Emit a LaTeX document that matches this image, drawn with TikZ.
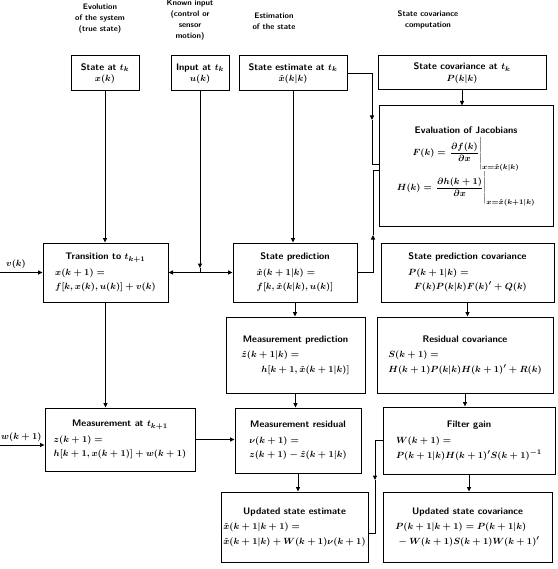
\documentclass[tikz,border=0pt]{standalone}
\usepackage{amsmath}
\usetikzlibrary{arrows.meta}
\newcommand{\kfTitle}[1]{\multicolumn{1}{@{}c@{}}{#1}}
\begin{document}
\begin{tikzpicture}[x=1pt,y=-1pt,
  box/.style={draw, line width=1pt, inner sep=1pt, font=\sffamily\bfseries\boldmath\fontsize{9.5}{11.5}\selectfont, align=center},
  ln/.style={line width=1pt},
  arr/.style={ln, -{Triangle[length=4.5pt,width=4pt]}},
  darr/.style={ln, {Triangle[length=4.5pt,width=4pt]}-{Triangle[length=4.5pt,width=4pt]}},
  hdr/.style={font=\sffamily\bfseries\fontsize{8}{11}\selectfont, align=center, inner sep=0pt},
  lbl/.style={font=\bfseries\boldmath\fontsize{9.5}{11}\selectfont, inner sep=1pt}]
\useasboundingbox[fill=white] (0,0) rectangle (557,569);

% headers
\node[hdr] (h1) at (100,19) {Evolution\\of the system\\(true state)};
\node[hdr] (h2) at (190,20.5) {Known input\\(control or\\sensor\\motion)};
\node[hdr] (h3) at (274,21) {Estimation\\of the state};
\node[hdr] (h4) at (428,20) {State covariance\\computation};

% boxes
\node[box, minimum width=68pt, minimum height=35pt] (sk) at (105,73.5)
  {\begin{tabular}{@{}c@{}}State at $t_k$\\ $x(k)$\end{tabular}};
\node[box, minimum width=58pt, minimum height=35pt] (uk) at (200,73.5)
  {\begin{tabular}{@{}c@{}}Input at $t_k$\\ $u(k)$\end{tabular}};
\node[box, minimum width=108pt, minimum height=35pt] (xe) at (293,73.5)
  {\begin{tabular}{@{}c@{}}State estimate at $t_k$\\ $\hat{x}(k|k)$\end{tabular}};
\node[box, minimum width=168pt, minimum height=34pt] (Pk) at (462,73)
  {\begin{tabular}{@{}c@{}}State covariance at $t_k$\\ $P(k|k)$\end{tabular}};
\node[box, minimum width=174pt, minimum height=120pt] (jac) at (466,166)
  {\begin{tabular}{@{}c@{}}Evaluation of Jacobians\\[0pt]
   $F(k) = \left.\dfrac{\partial f(k)}{\partial x}\rule[-14pt]{0pt}{24pt}\right|_{x=\hat{x}(k|k)}$\\[9pt]
   $H(k) = \left.\dfrac{\partial h(k+1)}{\partial x}\rule[-14pt]{0pt}{24pt}\right|_{x=\hat{x}(k+1|k)}$\end{tabular}};
\node[box, minimum width=125pt, minimum height=59pt] (tr) at (105.5,272.5)
  {\begin{tabular}{@{}l@{}}\kfTitle{Transition to $t_{k+1}$}\\[4pt] $x(k+1) =$\\[3pt] $f[k, x(k), u(k)] + v(k)$\end{tabular}};
\node[box, minimum width=124pt, minimum height=59pt] (sp) at (295,272.5)
  {\begin{tabular}{@{}l@{}}\kfTitle{State prediction}\\[4pt] $\hat{x}(k+1|k) =$\\[3pt] $f[k, \hat{x}(k|k), u(k)]$\end{tabular}};
\node[box, minimum width=173pt, minimum height=59pt] (spc) at (467.5,272.5)
  {\begin{tabular}{@{}l@{}}\kfTitle{State prediction covariance}\\[4pt] $P(k+1|k) =$\\[3pt] \hspace{6pt}$F(k)P(k|k)F(k)' + Q(k)$\end{tabular}};
\node[box, minimum width=139pt, minimum height=76pt] (mp) at (295.5,355)
  {\begin{tabular}{@{}l@{}}\kfTitle{Measurement prediction}\\[4pt] $\hat{z}(k+1|k) =$\\[3pt] \hspace{20pt}$h[k+1, \hat{x}(k+1|k)]$\end{tabular}};
\node[box, minimum width=176pt, minimum height=76pt] (rc) at (465,355)
  {\begin{tabular}{@{}l@{}}\kfTitle{Residual covariance}\\[4pt] $S(k+1) =$\\[3pt] $H(k+1)P(k|k)H(k+1)' + R(k)$\end{tabular}};
\node[box, minimum width=150pt, minimum height=63pt] (ms) at (120,439.5)
  {\begin{tabular}{@{}l@{}}\kfTitle{Measurement at $t_{k+1}$}\\[4pt] $z(k+1) =$\\[3pt] $h[k+1, x(k+1)] + w(k+1)$\end{tabular}};
\node[box, minimum width=126pt, minimum height=65pt] (mr) at (298,440.5)
  {\begin{tabular}{@{}l@{}}\kfTitle{Measurement residual}\\[4pt] $\nu(k+1) =$\\[3pt] $z(k+1) - \hat{z}(k+1|k)$\end{tabular}};
\node[box, minimum width=172pt, minimum height=67pt] (fg) at (469,440.5)
  {\begin{tabular}{@{}l@{}}\kfTitle{Filter gain}\\[4pt] $W(k+1) =$\\[3pt] $P(k+1|k)H(k+1)'S(k+1)^{-1}$\end{tabular}};
\node[box, minimum width=147pt, minimum height=70pt] (us) at (294.5,527)
  {\begin{tabular}{@{}l@{}}\kfTitle{Updated state estimate}\\[4pt] $\hat{x}(k+1|k+1) =$\\[3pt] $\hat{x}(k+1|k) + W(k+1)\nu(k+1)$\end{tabular}};
\node[box, minimum width=169pt, minimum height=70pt] (uc) at (467.5,527)
  {\begin{tabular}{@{}l@{}}\kfTitle{Updated state covariance}\\[4pt] $P(k+1|k+1) = P(k+1|k)$\\[3pt] \hspace{1pt}${}- W(k+1)S(k+1)W(k+1)'$\end{tabular}};

% external inputs
\coordinate (vin) at (0,272.5);
\coordinate (win) at (0,445);
\node[lbl, anchor=south] (vl) at (16,270) {$v(k)$};
\node[lbl, anchor=south west] (wl) at (0,443) {$w(k+1)$};
\draw[arr] (vin) -- (tr.west);
\draw[arr] (win) -- (win -| ms.west);

% true system column
\draw[arr] (sk.south) -- (sk.south |- tr.north);
\draw[arr] (tr.south) -- (tr.south |- ms.north);
\draw[arr] (ms.east) -- (ms.east -| mr.west);

% input
\coordinate (ua) at (200,268);
\draw[arr] (uk.south) -- (ua);
\draw[ln] (ua) -- (ua |- tr.east);
\draw[darr] (tr.east) -- (sp.west);

% estimation column
\draw[arr] (xe.south) -- (xe.south |- sp.north);
\draw[arr] (sp.south) -- (sp.south |- mp.north);
\draw[arr] (mp.south) -- (mp.south |- mr.north);
\draw[arr] (mr.south) -- (mr.south |- us.north);

% to Jacobians
\coordinate (ja) at (372,120);
\coordinate (jb) at (372,165);
\draw[arr] (xe.east) -| (ja);
\draw[ln] (ja) -- (jb) -- (jb -| jac.west);
\coordinate (jc) at (373,235);
\coordinate (jd) at (373,171);
\draw[arr] (sp.east) -| (jc);
\draw[ln] (jc) -- (jd) -- (jd -| jac.west);

% covariance column
\draw[arr] (Pk.south) -- (Pk.south |- jac.north);
\draw[arr] (spc.south) -- (spc.south |- rc.north);
\draw[arr] (rc.south) -- (rc.south |- fg.north);
\draw[arr] (fg.south) -- (fg.south |- uc.north);

% gain to state update
\coordinate (fa) at (375,480);
\coordinate (fb) at (375,533);
\draw[arr] (fg.west) -| (fa);
\draw[ln] (fa) -- (fb) -- (fb -| us.east);
\end{tikzpicture}
\end{document}
